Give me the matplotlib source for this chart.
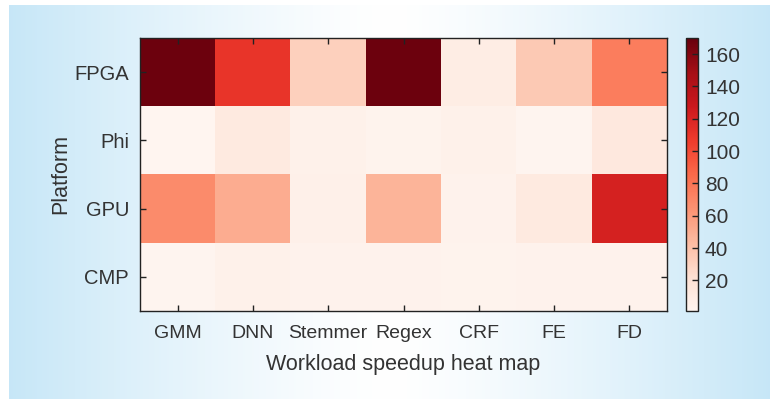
import numpy as np
import matplotlib
matplotlib.use("Agg")
import matplotlib.pyplot as plt

# workloads (columns) and platforms (rows)
workloads = ["GMM", "DNN", "Stemmer", "Regex", "CRF", "FE", "FD"]
platforms = ["FPGA", "Phi", "GPU", "CMP"]

# speedup values
fpga = [168, 110, 31, 168, 9, 35, 75]
phi = [1, 12, 5, 3, 5, 2, 14]
gpu = [68, 51, 6, 47, 4, 12, 122]
cmp_ = [2, 5, 4, 4, 3, 4, 4]

vmin, vmax = 1, 170
txt = "#333333"

plt.rcParams['font.family'] = ['Liberation Sans', 'DejaVu Sans']

fig = plt.figure(figsize=(7.7, 3.99), dpi=100)

# light blue background panel, fading to white in the middle
bg = fig.add_axes([9/770, 0, 1 - 9/770, 1 - 5/399])
bg.set_axis_off()
xs = np.linspace(-1, 1, 400)
w = np.abs(xs) ** 1.3
grad = np.ones((2, 400, 3))
edge = np.array([0.78, 0.905, 0.97])
for c in range(3):
    grad[:, :, c] = 1 - w * (1 - edge[c])
bg.imshow(grad, aspect='auto', extent=[0, 1, 0, 1])
bg.set_xlim(0, 1)
bg.set_ylim(0, 1)

data = np.array([fpga, phi, gpu, cmp_])

ax = fig.add_axes([140/770, 1 - 311/399, 527/770, 273/399])
im = ax.imshow(data, cmap="Reds", vmin=vmin, vmax=vmax, aspect='auto',
               interpolation='nearest')
ax.set_xticks(range(len(workloads)))
ax.set_xticklabels(workloads, fontsize=14, color=txt)
ax.set_yticks(range(len(platforms)))
ax.set_yticklabels(platforms, fontsize=14.5, color=txt)
ax.tick_params(direction='in', length=4, width=1, color="#222222",
               top=True, right=True, pad=8)
ax.tick_params(axis='x', pad=10)
for s in ax.spines.values():
    s.set_color("#222222")
    s.set_linewidth(1)
ax.set_xlabel("Workload speedup heat map", fontsize=15.5, color=txt, labelpad=9)
ax.set_ylabel("Platform", fontsize=15.5, color=txt, labelpad=2)

cax = fig.add_axes([686/770, 1 - 311/399, 12/770, 273/399])
cb = fig.colorbar(im, cax=cax)
cb.set_ticks([20, 40, 60, 80, 100, 120, 140, 160])
cb.ax.tick_params(direction='in', length=4, width=1, color="#222222",
                  labelsize=15, labelcolor=txt, pad=5)
cb.outline.set_edgecolor("#222222")
cb.outline.set_linewidth(1)

fig.savefig("out.png", dpi=100, facecolor="white")
